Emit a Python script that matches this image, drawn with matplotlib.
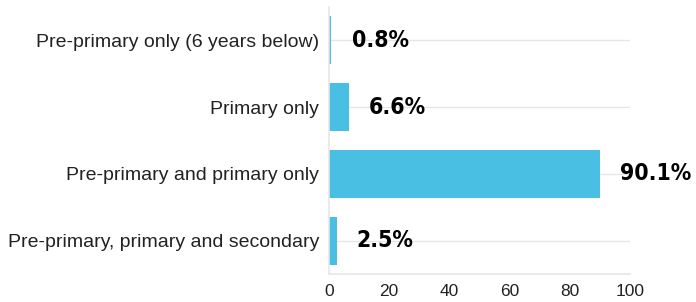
import matplotlib.pyplot as plt

# Data
categories = ["Pre-primary only (6 years below)", "Primary only",
              "Pre-primary and primary only", "Pre-primary, primary and secondary"]
values = [0.8, 6.6, 90.1, 2.5]
xticks = [0, 20, 40, 60, 80, 100]

bar_color = "#48BFE3"
grid_color = "#e6e6e6"
text_color = "#222222"

plt.rcParams["font.family"] = ["Liberation Sans", "DejaVu Sans"]

fig = plt.figure(figsize=(6.96, 3.02), dpi=100)
ax = fig.add_axes([329 / 696, 1 - 274 / 302, 301 / 696, 267 / 302])

ypos = list(range(len(categories)))
ax.barh(ypos, values, height=0.72, color=bar_color, zorder=2)

ax.set_ylim(3.5, -0.5)
ax.set_xlim(0, 100)
ax.set_yticks(ypos)
ax.set_yticklabels(categories, fontsize=14, color=text_color)
ax.set_xticks(xticks)
ax.set_xticklabels([str(t) for t in xticks], fontsize=12.5, color=text_color)
ax.tick_params(axis="both", length=0)
ax.tick_params(axis="y", pad=7)
ax.tick_params(axis="x", pad=7)

ax.grid(axis="y", color=grid_color, linewidth=1, zorder=0)
for s in ["top", "right"]:
    ax.spines[s].set_visible(False)
for s in ["left", "bottom"]:
    ax.spines[s].set_color(grid_color)
    ax.spines[s].set_linewidth(1.2)

# value labels
for y, v in zip(ypos, values):
    ax.annotate(f"{v}%", xy=(v, y), xytext=(14.5, 0), textcoords="offset points",
                va="center", ha="left", fontsize=16.5, fontweight="bold",
                family="DejaVu Sans", fontstretch="condensed",
                color="black", annotation_clip=False)

fig.savefig("out.png", dpi=100)
